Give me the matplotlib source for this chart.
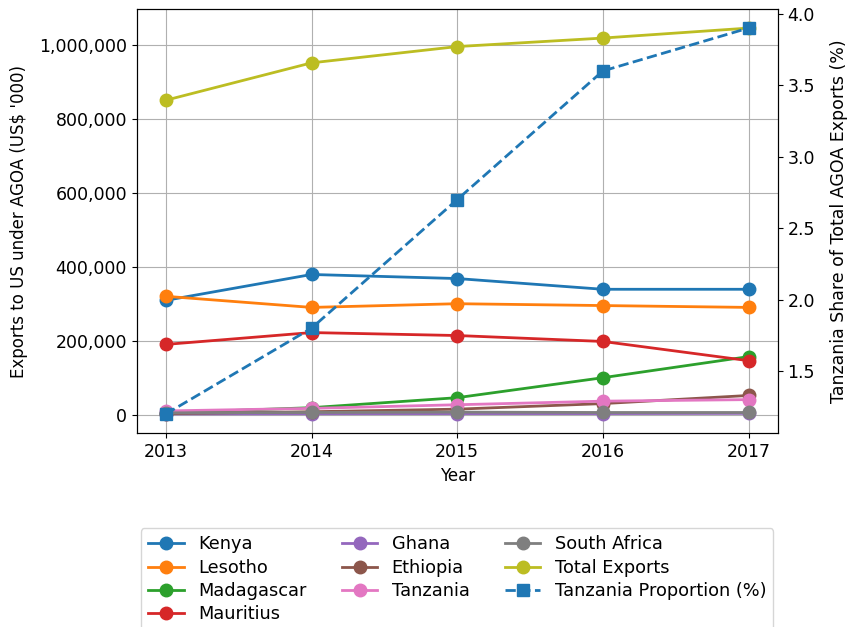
import numpy as np
import matplotlib.pyplot as plt
from matplotlib.ticker import FuncFormatter

years = [2013, 2014, 2015, 2016, 2017]

# exports to the US under AGOA, US$ '000
kenya = [309000, 379000, 368000, 339000, 339000]
lesotho = [320000, 290000, 300000, 295000, 290000]
madagascar = [5000, 19000, 46000, 100000, 157000]
mauritius = [190000, 222000, 214000, 198000, 146000]
ghana = [2000, 2500, 3000, 3000, 3500]
ethiopia = [3000, 8000, 15000, 30000, 52000]
tanzania = [10200, 17100, 26900, 36600, 40800]
south_africa = [5000, 6000, 7000, 6000, 6000]
total_exports = [850000, 951000, 995000, 1018000, 1045000]

tz_share = [1.2, 1.8, 2.7, 3.6, 3.9]

series = [
    ("Kenya", kenya),
    ("Lesotho", lesotho),
    ("Madagascar", madagascar),
    ("Mauritius", mauritius),
    ("Ghana", ghana),
    ("Ethiopia", ethiopia),
    ("Tanzania", tanzania),
    ("South Africa", south_africa),
    ("Total Exports", total_exports),
]

fig, ax = plt.subplots(figsize=(8.49, 6.27), dpi=100)
fig.subplots_adjust(left=0.161, right=0.916, top=0.986, bottom=0.309)

for i, (name, vals) in enumerate(series):
    ax.plot(years, vals, marker='o', color='C%d' % i, lw=2, ms=9, label=name)

ax.set_xlabel("Year", fontsize=12)
ax.set_ylabel("Exports to US under AGOA (US$ '000)", fontsize=12, labelpad=8)
ax.set_xticks(years)
ax.tick_params(labelsize=12.5)
ax.yaxis.set_major_formatter(FuncFormatter(lambda v, p: '{:,.0f}'.format(v)))
ax.grid(True)

ax2 = ax.twinx()
ax2.plot(years, tz_share, marker='s', ls='--', color='C0', lw=2, ms=9,
         label="Tanzania Proportion (%)")
ax2.set_ylabel("Tanzania Share of Total AGOA Exports (%)", fontsize=12.5,
               labelpad=11)
ax2.tick_params(labelsize=12.5)

h1, l1 = ax.get_legend_handles_labels()
h2, l2 = ax2.get_legend_handles_labels()
ax.legend(h1 + h2, l1 + l2, loc='upper center', bbox_to_anchor=(0.5, -0.203),
          ncol=3, fontsize=12.8, labelspacing=0.3)

fig.savefig("out.png", dpi=100)
